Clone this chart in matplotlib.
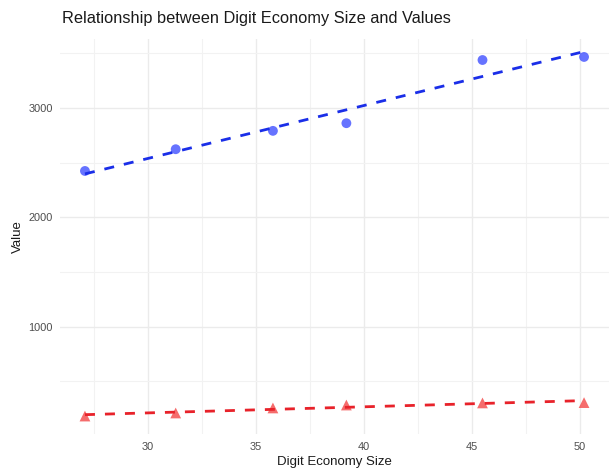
import numpy as np
import matplotlib
matplotlib.use("Agg")
import matplotlib.pyplot as plt

# Data
economy_size = [27.1, 31.3, 35.8, 39.2, 45.5, 50.2]
value_blue = [2425, 2624, 2792, 2862, 3440, 3468]
value_red = [183, 211, 257, 284, 303, 306]
x_ticks = [30, 35, 40, 45, 50]
y_ticks = [1000, 2000, 3000]
title = "Relationship between Digit Economy Size and Values"
x_label = "Digit Economy Size"
y_label = "Value"

plt.rcParams['font.family'] = ['Liberation Sans', 'DejaVu Sans']

W, H = 609, 468
fig = plt.figure(figsize=(W / 100, H / 100), dpi=100)
fig.patch.set_facecolor("white")
ax = fig.add_axes([60 / W, (H - 434) / H, 549 / W, (434 - 39) / H])
ax.set_facecolor("white")

x = np.array(economy_size)
all_y = np.array(value_blue + value_red)

def expand(lo, hi, f=0.05):
    d = (hi - lo) * f
    return lo - d, hi + d

# grid
ax.set_xticks(x_ticks)
ax.set_yticks(y_ticks)
ax.set_xticks([t + 2.5 for t in [25] + x_ticks], minor=True)
ax.set_yticks([500, 1500, 2500, 3500], minor=True)
ax.set_xlim(*expand(x.min(), x.max()))
ax.set_ylim(*expand(all_y.min(), all_y.max()))
ax.grid(True, which="major", color="#ebebeb", linewidth=1.0)
ax.grid(True, which="minor", color="#f2f2f2", linewidth=0.8)
ax.set_axisbelow(True)
for s in ax.spines.values():
    s.set_visible(False)
ax.tick_params(which="both", length=0)
ax.tick_params(axis="x", pad=6, labelsize=7.9, labelcolor="#4d4d4d")
ax.tick_params(axis="y", pad=5, labelsize=7.9, labelcolor="#4d4d4d")

# points
ax.scatter(x, value_blue, s=50, color="#3344ff", alpha=0.75, edgecolors="none", zorder=3)
ax.scatter(x, value_red, s=60, marker="^", color="#f23b3b", alpha=0.75, edgecolors="none", zorder=3)

# linear fits
xs = np.array([x.min(), x.max()])
for yv, col in [(value_blue, "#1a2ee8"), (value_red, "#e8222a")]:
    k, b = np.polyfit(x, np.array(yv), 1)
    ax.plot(xs, k * xs + b, color=col, linewidth=2.0, dashes=(3.6, 3.6), zorder=4,
            solid_capstyle="butt", dash_capstyle="butt")

ax.set_xlabel(x_label, fontsize=9.5, color="#1a1a1a", labelpad=3)
ax.set_ylabel(y_label, fontsize=9.5, color="#1a1a1a", labelpad=3)
fig.text(62 / W, 1 - 18 / H, title, fontsize=11.8, color="#1a1a1a", ha="left", va="center")

fig.savefig("out.png", dpi=100)
